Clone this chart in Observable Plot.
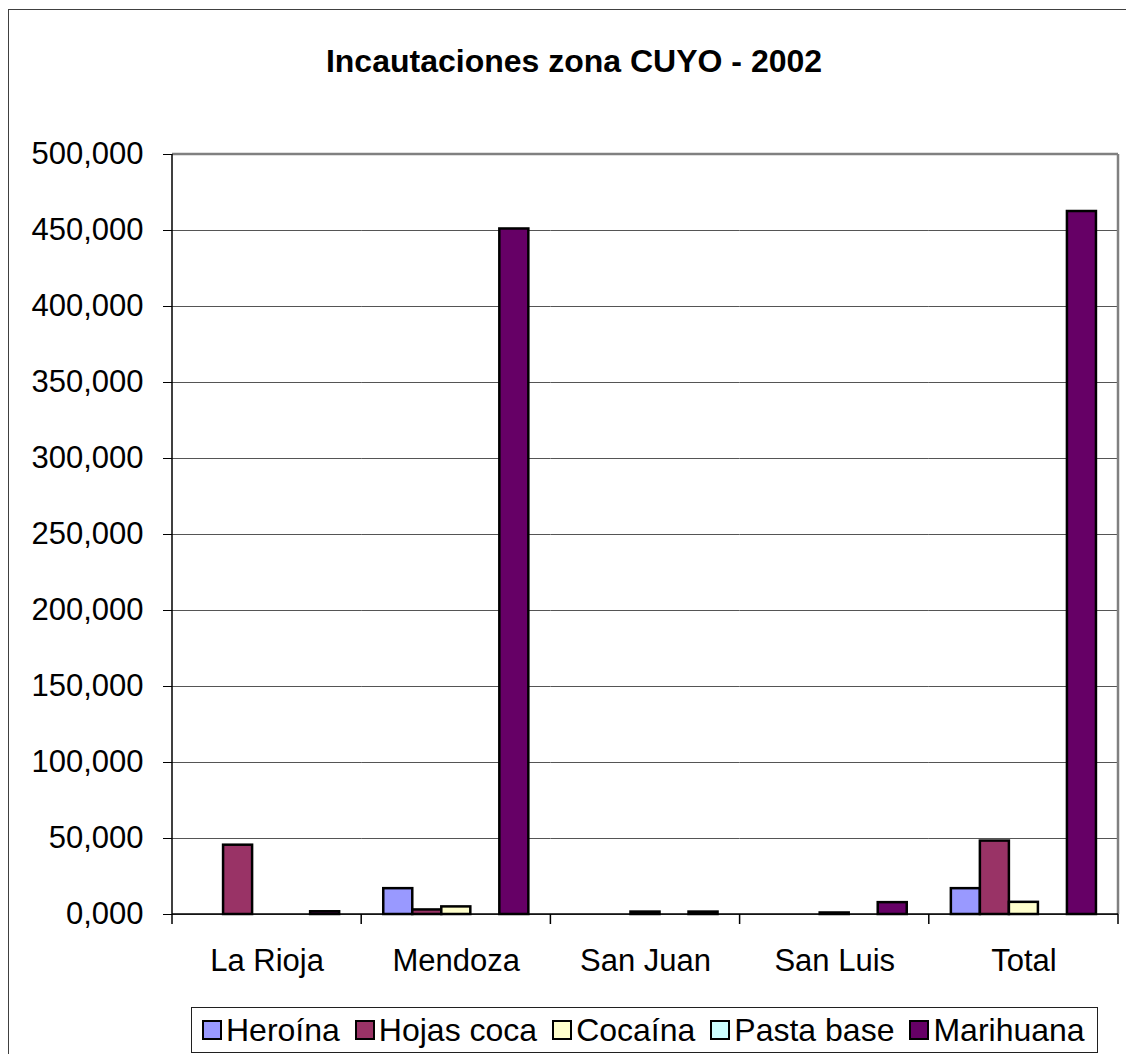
<!DOCTYPE html>
<html>
<head>
<meta charset="utf-8">
<script src="https://cdn.jsdelivr.net/npm/d3@7"></script>
<script src="https://cdn.jsdelivr.net/npm/@observablehq/plot@0.6"></script>
<style>
  html, body { margin:0; padding:0; background:#fff; }
  body { width:1126px; height:1054px; overflow:hidden; position:relative; font-family:"Liberation Sans", Arial, sans-serif; }
  #outer { position:absolute; left:8px; top:9px; width:1200px; height:1100px; border:1.5px solid #404040; box-sizing:border-box; }
  #title { position:absolute; left:0; top:45px; width:1148px; text-align:center; font-weight:bold; font-size:32px; line-height:32px; color:#000; }
  #chart { position:absolute; left:0; top:0; }
  #legend { position:absolute; left:191px; top:1007px; width:907px; height:46px; border:1.5px solid #202020; box-sizing:border-box; display:flex; align-items:center; padding-left:10px; font-size:32px; background:#fff; color:#000; }
  .item { display:flex; align-items:center; margin-right:15px; white-space:nowrap; }
  .sw { width:16px; height:16px; border:2px solid #000; margin-right:4px; }
</style>
</head>
<body>
<div id="outer"></div>
<div id="title">Incautaciones zona CUYO - 2002</div>
<div id="chart"></div>
<div id="legend"></div>
<script>
const groups = ["La Rioja", "Mendoza", "San Juan", "San Luis", "Total"];
const series = ["Heroína", "Hojas coca", "Cocaína", "Pasta base", "Marihuana"];
const colors = ["#9999FF", "#993366", "#FFFFCC", "#CCFFFF", "#660066"];
const heroina   = [0,    17.0,  0,   0,   17.0];
const hojasCoca = [45.6,  3.0,  0,   0,   48.3];
const cocaina   = [0,     5.0,  1.6, 1.0,  8.0];
const pastaBase = [0,     0,    0,   0,    0];
const marihuana = [1.8, 451.0,  1.6, 7.8, 462.5];
const yTicks = [0, 50, 100, 150, 200, 250, 300, 350, 400, 450, 500];

const valuesBySeries = [heroina, hojasCoca, cocaina, pastaBase, marihuana];
const data = groups.flatMap((g, i) => series.map((s, j) => ({group: g, series: s, value: valuesBySeries[j][i]})))
  .filter(d => d.value > 0);

const loc = d3.formatLocale({decimal: ",", thousands: ".", grouping: [3], currency: ["", ""]});
const fmt = loc.format(".3f");

const chart = Plot.plot({
  width: 1126,
  height: 1000,
  marginLeft: 172,
  marginRight: 8,
  marginTop: 154,
  marginBottom: 86,
  style: {fontFamily: "'Liberation Sans', Arial, sans-serif", fontSize: "31px", background: "transparent", overflow: "visible", color: "#000"},
  fx: {domain: groups, padding: 0, label: null, round: false},
  x: {domain: series, paddingInner: 0, paddingOuter: 0.76, axis: null, round: false},
  y: {domain: [0, 500], label: null},
  color: {domain: series, range: colors},
  marks: [
    Plot.gridY(yTicks, {stroke: "#555", strokeOpacity: 1, strokeWidth: 1}),
    Plot.barY(data, {fx: "group", x: "series", y: "value", fill: "series", stroke: "#000", strokeWidth: 2.5, inset: 0}),
    Plot.axisY(yTicks, {tickSize: 9, tickPadding: 20, tickFormat: fmt, fontSize: 31, stroke: "#000", label: null}),
    Plot.axisFx({anchor: "bottom", tickSize: 0, tickPadding: 34, fontSize: 31, label: null})
  ]
});
document.getElementById("chart").appendChild(chart);

// frame, axis lines and category separators from the scales
const fx = chart.scale("fx"), y = chart.scale("y");
const svg = d3.select(chart);
const x0 = fx.apply(groups[0]);
const x1 = fx.apply(groups[groups.length - 1]) + fx.bandwidth;
const yTop = y.apply(500), yBot = y.apply(0);
const g = svg.append("g");
g.append("line").attr("x1", x0).attr("x2", x1).attr("y1", yTop).attr("y2", yTop).attr("stroke", "#808080").attr("stroke-width", 2.5);
g.append("line").attr("x1", x1).attr("x2", x1).attr("y1", yTop).attr("y2", yBot).attr("stroke", "#808080").attr("stroke-width", 2.5);
g.append("line").attr("x1", x0).attr("x2", x1).attr("y1", yBot).attr("y2", yBot).attr("stroke", "#000").attr("stroke-width", 1.5);
g.append("line").attr("x1", x0).attr("x2", x0).attr("y1", yTop).attr("y2", yBot + 10).attr("stroke", "#000").attr("stroke-width", 1.5);
groups.slice(1).forEach(gr => {
  const xx = fx.apply(gr);
  g.append("line").attr("x1", xx).attr("x2", xx).attr("y1", yBot).attr("y2", yBot + 10).attr("stroke", "#000").attr("stroke-width", 1.5);
});
g.append("line").attr("x1", x1).attr("x2", x1).attr("y1", yBot).attr("y2", yBot + 10).attr("stroke", "#000").attr("stroke-width", 1.5);

// legend
const legend = d3.select("#legend");
series.forEach((s, i) => {
  const it = legend.append("div").attr("class", "item");
  it.append("div").attr("class", "sw").style("background", colors[i]);
  it.append("span").text(s);
});
</script>
</body>
</html>
